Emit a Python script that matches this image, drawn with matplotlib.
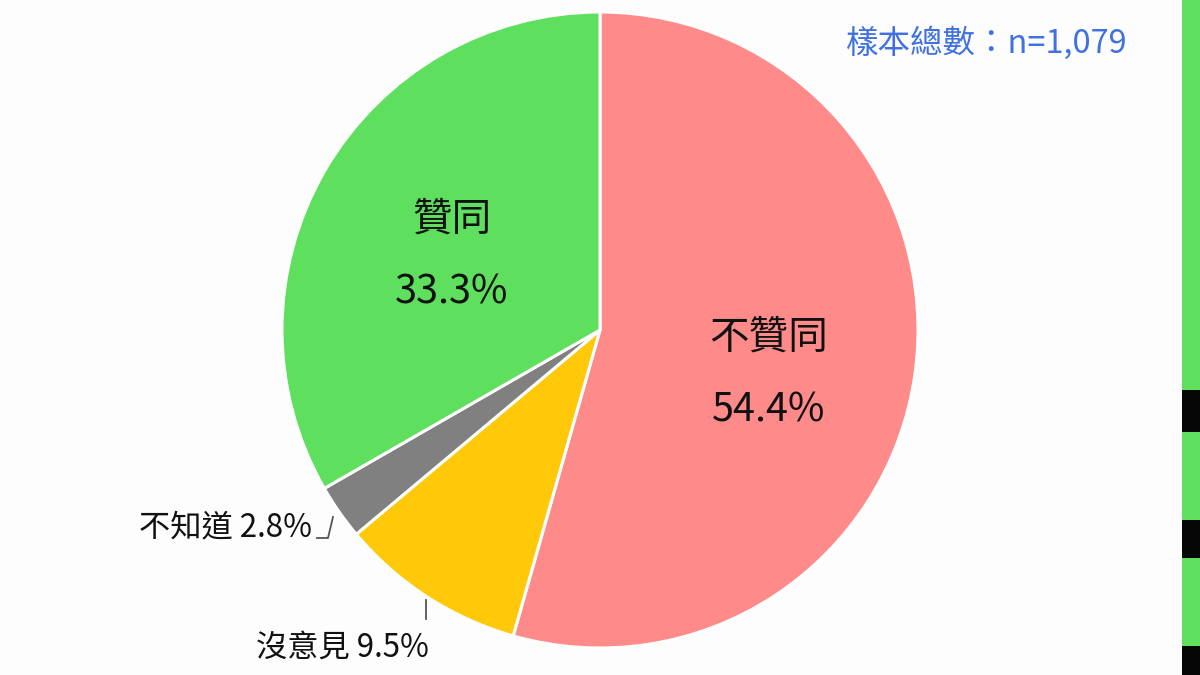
import matplotlib
matplotlib.use("Agg")
import matplotlib.pyplot as plt
from matplotlib.patches import Rectangle

plt.rcParams['font.family'] = ['Noto Sans CJK TC', 'DejaVu Sans']

categories = ['不贊同', '沒意見', '不知道', '贊同']
values = [54.4, 9.5, 2.8, 33.3]
colors = ['#FF8A8A', '#FFC90A', '#808080', '#5EE05E']
sample_note = '樣本總數：n=1,079'

W, H = 1200, 675
fig = plt.figure(figsize=(12, 6.75), dpi=100)
fig.patch.set_facecolor('#FDFDFD')
ax = fig.add_axes([0, 0, 1, 1])

def py(y):
    return H - y

cx, cy, r = 600, 330, 318
ax.pie(values, colors=colors, startangle=90, counterclock=False,
       center=(cx, py(cy)), radius=r, frame=True,
       wedgeprops=dict(edgecolor='white', linewidth=2.2))
ax.set_xlim(0, W)
ax.set_ylim(0, H)
ax.axis('off')

fmt = lambda v: f'{v:.1f}%'
tk = dict(ha='center', va='center', fontsize=28.5, color='#111111')
# inner labels
ax.text(769, py(338), categories[0], **tk)
ax.text(769, py(410), fmt(values[0]), **tk)
ax.text(452, py(220), categories[3], **tk)
ax.text(452, py(292), fmt(values[3]), **tk)

# outer labels with leader lines
ax.plot([333, 328, 317], [py(517), py(538), py(538)], color='#555555', lw=1.3)
ax.text(312, py(527), f'{categories[2]} {fmt(values[2])}', ha='right', va='center',
        fontsize=22.5, color='#111111')
ax.plot([426, 426], [py(600), py(619)], color='#555555', lw=1.3)
ax.text(429, py(648), f'{categories[1]} {fmt(values[1])}', ha='right', va='center',
        fontsize=22.5, color='#111111')

# sample size note
ax.text(1128, py(43), sample_note, ha='right', va='center', fontsize=23.4,
        color='#3F72E0')

# right edge strip (neighbouring image)
fig.patches.append(Rectangle((1182 / W, 0), 18 / W, 1, transform=fig.transFigure,
                             facecolor='#5EE05E', edgecolor='none'))
for y0, y1 in [(390, 432), (520, 558), (646, 675)]:
    fig.patches.append(Rectangle((1182 / W, 1 - y1 / H), 18 / W, (y1 - y0) / H,
                                 transform=fig.transFigure, facecolor='#050505',
                                 edgecolor='none'))

fig.savefig('out.png', dpi=100, facecolor=fig.get_facecolor())
